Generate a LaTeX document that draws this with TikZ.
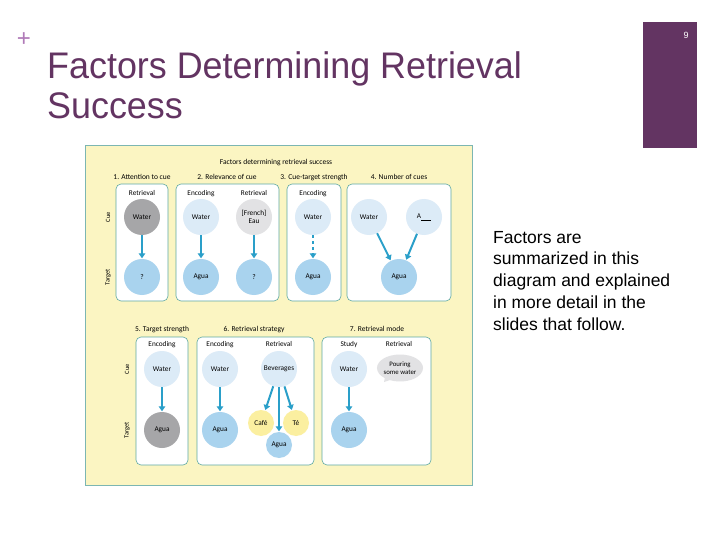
\documentclass[tikz,border=0pt]{standalone}
\usepackage{fontspec}
\setmainfont{Liberation Sans}
\newfontfamily\figfont{Carlito}
\usepackage{xcolor}
\usetikzlibrary{arrows.meta,positioning,shapes.geometric,shapes.callouts}

\definecolor{slidepurple}{HTML}{633462}
\definecolor{pluspurple}{HTML}{B07AB8}
\definecolor{figyellow}{HTML}{FBF5C2}
\definecolor{figframe}{HTML}{7CB6B2}
\definecolor{panelline}{HTML}{5FA9A2}
\definecolor{cuelight}{HTML}{DCEBF7}
\definecolor{targetblue}{HTML}{A9D3EE}
\definecolor{darkgray}{HTML}{A6A6A8}
\definecolor{lightgray}{HTML}{E2E2E4}
\definecolor{snack}{HTML}{FBEFA0}
\definecolor{arrowteal}{HTML}{2A9FC9}

\begin{document}
\begin{tikzpicture}[x=1pt,y=-1pt,
  panel/.style={draw=panelline,fill=white,rounded corners=5pt,line width=0.6pt},
  cue/.style={circle,fill=cuelight,minimum size=36pt,inner sep=0pt,
    font=\figfont\fontsize{7.3}{8}\selectfont,align=center},
  tgt/.style={cue,fill=targetblue},
  small/.style={cue,minimum size=26pt},
  lbl/.style={anchor=base,font=\figfont\fontsize{7.3}{8}\selectfont},
  hdr/.style={anchor=base,font=\figfont\fontsize{7.5}{8}\selectfont},
  side/.style={font=\figfont\fontsize{6.5}{7}\selectfont,rotate=90},
  link/.style={draw=arrowteal,line width=2pt,
    -{Triangle[length=5pt,width=6.5pt]},shorten >=0.5pt}
]
\useasboundingbox (0,0) rectangle (720,540);
\fill[white] (0,0) rectangle (720,540);

% slide frame
\node[text=pluspurple,font=\fontsize{24}{24}\selectfont] (plus) at (24,40) {+};
\fill[slidepurple] (643,22) rectangle (697,148);
\node[text=white,font=\fontsize{9}{9}\selectfont] (pg) at (686,35) {9};
\node[text=slidepurple,font=\fontsize{37}{40}\selectfont,align=left,
      anchor=north west,inner sep=0pt,xscale=0.97] (title) at (47,51)
  {Factors Determining Retrieval\\Success};
\node[font=\fontsize{17.5}{21.7}\selectfont,align=left,anchor=north west,
      inner sep=0pt] (note) at (493,231)
  {Factors are\\summarized in this\\diagram and explained\\in more detail in the\\slides that follow.};

% figure background
\draw[figframe,fill=figyellow,line width=0.8pt] (85,145) rectangle (472,485);
\node[hdr] (ftitle) at (276,165) {Factors determining retrieval success};

% row 1 panels
\draw[panel] (116,184) rectangle (168,301);
\draw[panel] (176,184) rectangle (279,301);
\draw[panel] (287,184) rectangle (341,301);
\draw[panel] (347,184) rectangle (451,301);
\node[hdr] (h1) at (142,180) {1. Attention to cue};
\node[hdr] (h2) at (227,180) {2. Relevance of cue};
\node[hdr] (h3) at (314,180) {3. Cue-target strength};
\node[hdr] (h4) at (399,180) {4. Number of cues};
\node[side] (cue1) at (108,217) {Cue};
\node[side] (tgt1) at (108,277) {Target};

\node[lbl] (l1) at (142,196) {Retrieval};
\node[cue,fill=darkgray] (w1) at (142,217) {Water};
\node[tgt] (a1) at (142,277) {?};

\node[lbl] (l2a) at (201,196) {Encoding};
\node[lbl] (l2b) at (254,196) {Retrieval};
\node[cue] (w2) at (201,217) {Water};
\node[cue,fill=lightgray] (e2) at (254,217) {[French]\\Eau};
\node[tgt] (a2) at (201,277) {Agua};
\node[tgt] (q2) at (254,277) {?};

\node[lbl] (l3) at (313,196) {Encoding};
\node[cue] (w3) at (313,217) {Water};
\node[tgt] (a3) at (313,277) {Agua};

\node[cue] (w4) at (369,217) {Water};
\node[cue] (b4) at (424,217) {A\underline{\hspace{10pt}}};
\node[tgt] (a4) at (399,277) {Agua};

\draw[link] (w1) -- (a1);
\draw[link] (w2) -- (a2);
\draw[link] (e2) -- (q2);
\draw[link,dashed] (w3) -- (a3);
\draw[link] (w4) -- (a4);
\draw[link] (b4) -- (a4);

% row 2 panels
\draw[panel] (136,337) rectangle (188,465);
\draw[panel] (197,337) rectangle (314,465);
\draw[panel] (322,337) rectangle (431,465);
\node[hdr] (h5) at (162,331) {5. Target strength};
\node[hdr] (h6) at (254,331) {6. Retrieval strategy};
\node[hdr] (h7) at (377,331) {7. Retrieval mode};
\node[side] (cue2) at (127,369) {Cue};
\node[side] (tgt2) at (127,430) {Target};

\node[lbl] (l5) at (162,346) {Encoding};
\node[cue] (w5) at (162,369) {Water};
\node[tgt,fill=darkgray] (a5) at (162,430) {Agua};

\node[lbl] (l6a) at (220,346) {Encoding};
\node[lbl] (l6b) at (279,346) {Retrieval};
\node[cue] (w6) at (220,369) {Water};
\node[tgt] (a6) at (220,430) {Agua};
\node[cue] (bev) at (279,369) {Beverages};
\node[small,fill=snack] (cafe) at (261,423) {Café};
\node[small,fill=snack] (te) at (296,423) {Té};
\node[small,fill=targetblue] (agua6) at (279,445) {Agua};

\node[lbl] (l7a) at (349,346) {Study};
\node[lbl] (l7b) at (399,346) {Retrieval};
\node[cue] (w7) at (349,369) {Water};
\node[tgt] (a7) at (349,430) {Agua};
\node[ellipse callout,fill=lightgray,minimum width=42pt,minimum height=27pt,
      inner sep=0pt,align=center,font=\figfont\fontsize{6.8}{7.5}\selectfont,
      callout absolute pointer={(384,382)}] (pour) at (400,368)
  {Pouring\\some water};

\draw[link] (w5) -- (a5);
\draw[link] (w6) -- (a6);
\draw[link] (bev) -- (cafe);
\draw[link] (bev) -- (te);
\draw[link] (bev) -- (agua6);
\draw[link] (w7) -- (a7);
\end{tikzpicture}
\end{document}
